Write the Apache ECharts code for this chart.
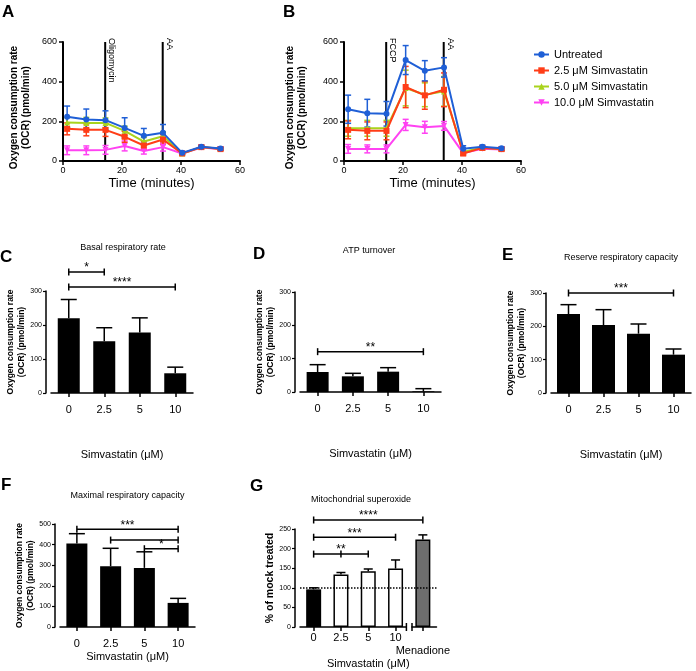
<!DOCTYPE html>
<html>
<head>
<meta charset="utf-8">
<script src="https://cdn.jsdelivr.net/npm/echarts@6/dist/echarts.min.js"></script>
<style>
  html, body { margin: 0; padding: 0; background: #fff; }
  #main { width: 696px; height: 671px; }
</style>
</head>
<body>
<div id="main"></div>
<script>
// 基于准备好的dom，初始化echarts图表
var chart = echarts.init(document.getElementById('main'));

var FONT = '"Liberation Sans", Arial, sans-serif';

// ---- A / B: OCR time courses ----
var times = [1.4, 7.9, 14.4, 20.9, 27.4, 33.9, 40.4, 46.9, 53.4];
var groups = ['Untreated', '2.5 μM Simvastatin', '5.0 μM Simvastatin', '10.0 μM Simvastatin'];
var groupColors = ['#1f5fd6', '#ff3d17', '#a9d31c', '#ff42f2'];
var groupSymbols = ['circle', 'rect', 'triangle', 'triangle'];
var groupRotate = [0, 0, 0, 180];
var ocrMax = 600;

var untreatedA = [223, 209, 206, 167, 127, 142, 41, 72, 63];
var untreatedAErr = [54, 53, 47, 51, 37, 42, 8, 8, 8];
var simva25A = [162, 157, 157, 122, 78, 108, 38, 70, 60];
var simva25AErr = [30, 30, 33, 28, 22, 25, 6, 6, 6];
var simva50A = [194, 192, 192, 152, 98, 125, 38, 70, 62];
var simva50AErr = [25, 28, 25, 24, 20, 22, 6, 6, 6];
var simva100A = [54, 54, 56, 76, 50, 70, 38, 68, 60];
var simva100AErr = [22, 22, 22, 25, 15, 20, 5, 5, 5];
var injectA = [14.3, 33.8];
var injectANames = ['Oligomycin', 'AA'];

var untreatedB = [261, 241, 238, 509, 455, 472, 62, 72, 64];
var untreatedBErr = [71, 70, 62, 73, 51, 49, 15, 8, 8];
var simva25B = [157, 152, 152, 373, 331, 359, 38, 66, 60];
var simva25BErr = [45, 45, 45, 104, 70, 85, 10, 8, 8];
var simva50B = [165, 165, 165, 368, 334, 351, 45, 68, 60];
var simva50BErr = [40, 40, 40, 90, 60, 75, 10, 6, 6];
var simva100B = [61, 61, 61, 182, 170, 177, 40, 62, 58];
var simva100BErr = [22, 20, 20, 28, 30, 22, 6, 5, 5];
var injectB = [14.3, 33.8];
var injectBNames = ['FCCP', 'AA'];

// ---- C-F: OCR parameters ----
var doses = ['0', '2.5', '5', '10'];
var basal = [220, 152, 178, 58];
var basalErr = [55, 40, 43, 18];
var basalSig = [[0, 1, 356, '*'], [0, 3, 312, '****']];
var atp = [60, 47, 61, 2];
var atpErr = [22, 9, 12, 8];
var atpSig = [[0, 3, 121, '**']];
var reserve = [237, 204, 178, 115];
var reserveErr = [28, 46, 29, 17];
var reserveSig = [[0, 3, 300, '***']];
var maximal = [405, 295, 287, 117];
var maximalErr = [48, 87, 78, 22];
var maximalSig = [[0, 3, 474, '***'], [1, 3, 422, ''], [2, 3, 380, '*']];

// ---- G: superoxide ----
var soxCats = ['0', '2.5', '5', '10', '\nMenadione'];
var superoxide = [96, 134, 142, 149, 223];
var superoxideErr = [4, 5, 6, 22, 12];
var superoxideSig = [[0, 4, 273, '****'], [0, 3, 229, '***'], [0, 2, 186, '**', 1]];
var mockLevel = 100;
var soxFill = ['#000', '#fff', '#fff', '#fff', '#6e6e6e'];

var ocrName = 'Oxygen consumption rate\n(OCR) (pmol/min)';

function lineStyleOf(color, w) { return { stroke: color, lineWidth: w }; }

function lineErrSeries(gi, mean, err, color, z) {
  return {
    type: 'custom', xAxisIndex: gi, yAxisIndex: gi, z: z, silent: true,
    data: times.map(function (t, i) { return [t, mean[i] - err[i], mean[i] + err[i]]; }),
    encode: { x: 0, y: [1, 2] },
    renderItem: function (params, api) {
      var lo = api.coord([api.value(0), api.value(1)]);
      var hi = api.coord([api.value(0), api.value(2)]);
      var st = lineStyleOf(color, 1.5);
      return { type: 'group', children: [
        { type: 'line', shape: { x1: lo[0], y1: lo[1], x2: hi[0], y2: hi[1] }, style: st },
        { type: 'line', shape: { x1: hi[0] - 3, y1: hi[1], x2: hi[0] + 3, y2: hi[1] }, style: st },
        { type: 'line', shape: { x1: lo[0] - 3, y1: lo[1], x2: lo[0] + 3, y2: lo[1] }, style: st }
      ] };
    }
  };
}

function eventSeries(gi, xs, names) {
  return {
    type: 'custom', xAxisIndex: gi, yAxisIndex: gi, z: 1, silent: true,
    data: xs.map(function (x) { return [x, 0, ocrMax]; }),
    encode: { x: 0, y: [1, 2] },
    renderItem: function (params, api) {
      var bot = api.coord([api.value(0), api.value(1)]);
      var top = api.coord([api.value(0), api.value(2)]);
      return { type: 'group', children: [
        { type: 'line', shape: { x1: top[0], y1: top[1], x2: bot[0], y2: bot[1] }, style: lineStyleOf('#000', 2) },
        { type: 'text', x: top[0] + 2, y: top[1] - 4, rotation: -Math.PI / 2,
          style: { text: names[params.dataIndex], fill: '#000', font: '9px ' + FONT,
                   align: 'left', verticalAlign: 'bottom', textAlign: 'left', textVerticalAlign: 'bottom' } }
      ] };
    }
  };
}

function barErrSeries(gi, values, errs, cap) {
  return {
    type: 'custom', xAxisIndex: gi, yAxisIndex: gi, z: 4, silent: true,
    data: values.map(function (v, i) { return [i, v, v + errs[i]]; }),
    encode: { x: 0, y: [1, 2] },
    renderItem: function (params, api) {
      var lo = api.coord([api.value(0), api.value(1)]);
      var hi = api.coord([api.value(0), api.value(2)]);
      var st = lineStyleOf('#000', 1.5);
      return { type: 'group', children: [
        { type: 'line', shape: { x1: lo[0], y1: lo[1], x2: hi[0], y2: hi[1] }, style: st },
        { type: 'line', shape: { x1: hi[0] - cap, y1: hi[1], x2: hi[0] + cap, y2: hi[1] }, style: st }
      ] };
    }
  };
}

function sigSeries(gi, sig) {
  return {
    type: 'custom', xAxisIndex: gi, yAxisIndex: gi, z: 5, silent: true,
    data: sig.map(function (s) { return [s[0], s[1], s[2]]; }),
    encode: { x: [0, 1], y: 2 },
    renderItem: function (params, api) {
      var s = sig[params.dataIndex];
      var a = api.coord([s[0], s[2]]);
      var b = api.coord([s[1], s[2]]);
      var st = lineStyleOf('#000', 1.5);
      var kids = [
        { type: 'line', shape: { x1: a[0], y1: a[1], x2: b[0], y2: b[1] }, style: st },
        { type: 'line', shape: { x1: a[0], y1: a[1] - 3.5, x2: a[0], y2: a[1] + 3.5 }, style: st },
        { type: 'line', shape: { x1: b[0], y1: b[1] - 3.5, x2: b[0], y2: b[1] + 3.5 }, style: st }
      ];
      if (s[4] != null) {
        var m = api.coord([s[4], s[2]]);
        kids.push({ type: 'line', shape: { x1: m[0], y1: m[1] - 3.5, x2: m[0], y2: m[1] + 3.5 }, style: st });
      }
      if (s[3]) {
        kids.push({ type: 'text', x: (a[0] + b[0]) / 2, y: a[1] + 2,
          style: { text: s[3], fill: '#000', font: '12px ' + FONT,
                   align: 'center', verticalAlign: 'bottom', textAlign: 'center', textVerticalAlign: 'bottom' } });
      }
      return { type: 'group', children: kids };
    }
  };
}

var grids = [
  { left: 63, top: 42, width: 177, height: 119 },   // A
  { left: 344, top: 42, width: 177, height: 119 },  // B
  { left: 51, top: 291, width: 142, height: 102 },  // C
  { left: 300, top: 292, width: 141, height: 100 }, // D
  { left: 551, top: 293, width: 140, height: 100 }, // E
  { left: 60, top: 524, width: 135, height: 103 },  // F
  { left: 300, top: 529, width: 136.5, height: 98 } // G
];
grids.forEach(function (g) { g.outerBoundsMode = 'none'; g.containLabel = false; });

var axisLineBlack = { show: true, lineStyle: { color: '#000', width: 1.5 } };
var xAxes = [];
var yAxes = [];

[0, 1].forEach(function (gi) {
  xAxes.push({
    type: 'value', gridIndex: gi, min: 0, max: 60, interval: 20,
    axisLine: { show: true, lineStyle: { color: '#000', width: 2 } }, splitLine: { show: false },
    axisTick: { show: true, length: 4, lineStyle: { color: '#000', width: 1.5 } },
    axisLabel: { fontSize: 9, color: '#000', margin: 5 },
    name: 'Time (minutes)', nameLocation: 'middle', nameGap: 16,
    nameTextStyle: { fontSize: 13, color: '#000' }
  });
  yAxes.push({
    type: 'value', gridIndex: gi, min: 0, max: ocrMax, interval: 200,
    axisLine: { show: true, lineStyle: { color: '#000', width: 2 } }, splitLine: { show: false },
    axisTick: { show: true, length: 4, lineStyle: { color: '#000', width: 1.5 } },
    axisLabel: { fontSize: 9, color: '#000', margin: 6 },
    name: ocrName, nameLocation: 'middle', nameGap: gi === 0 ? 31 : 36,
    nameTextStyle: { fontSize: 10, fontWeight: 'bold', color: '#000', lineHeight: 12, padding: [0, 12, 0, 0] }
  });
});

var barPanels = [
  { gi: 2, cats: doses, values: basal, errs: basalErr, sig: basalSig, max: 300, interval: 100, bw: 22, cap: 8, nameGap: 56, labelMargin: 10, yGap: 19 },
  { gi: 3, cats: doses, values: atp, errs: atpErr, sig: atpSig, max: 300, interval: 100, bw: 22, cap: 8, nameGap: 56, labelMargin: 10, yGap: 18 },
  { gi: 4, cats: doses, values: reserve, errs: reserveErr, sig: reserveSig, max: 300, interval: 100, bw: 23, cap: 8, nameGap: 56, labelMargin: 10, yGap: 18 },
  { gi: 5, cats: doses, values: maximal, errs: maximalErr, sig: maximalSig, max: 500, interval: 100, bw: 21, cap: 8, nameGap: 24, labelMargin: 10, yGap: 16 },
  { gi: 6, cats: soxCats, values: superoxide, errs: superoxideErr, sig: superoxideSig, max: 250, interval: 50, bw: 15, cap: 4.5, nameGap: 31, labelMargin: 4, yGap: 16 }
];

barPanels.forEach(function (p) {
  xAxes.push({
    type: 'category', gridIndex: p.gi, data: p.cats,
    axisLine: axisLineBlack,
    axisTick: { show: true, alignWithLabel: true, length: 4, lineStyle: { color: '#000', width: 1.5 } },
    axisLabel: { fontSize: 11, color: '#000', margin: p.labelMargin, interval: 0, lineHeight: 13 },
    name: 'Simvastatin (μM)', nameLocation: 'middle', nameGap: p.nameGap,
    nameTextStyle: { fontSize: 11, color: '#000' }
  });
  yAxes.push({
    type: 'value', gridIndex: p.gi, min: 0, max: p.max, interval: p.interval, offset: 5,
    axisLine: axisLineBlack, splitLine: { show: false },
    axisTick: { show: true, length: 3, lineStyle: { color: '#000', width: 1.2 } },
    axisLabel: { fontSize: 7, color: '#000', margin: 4 },
    name: p.gi === 6 ? '% of mock treated' : ocrName,
    nameLocation: 'middle', nameGap: p.yGap,
    nameTextStyle: p.gi === 6
      ? { fontSize: 10.5, fontWeight: 'bold', color: '#000' }
      : { fontSize: 8.5, fontWeight: 'bold', color: '#000', lineHeight: 10.5 }
  });
});

var series = [];

[
  { gi: 0, means: [untreatedA, simva25A, simva50A, simva100A], errs: [untreatedAErr, simva25AErr, simva50AErr, simva100AErr], inject: injectA, names: injectANames },
  { gi: 1, means: [untreatedB, simva25B, simva50B, simva100B], errs: [untreatedBErr, simva25BErr, simva50BErr, simva100BErr], inject: injectB, names: injectBNames }
].forEach(function (p) {
  series.push(eventSeries(p.gi, p.inject, p.names));
  p.means.forEach(function (m, k) {
    series.push(lineErrSeries(p.gi, m, p.errs[k], groupColors[k], 6 - k));
    series.push({
      name: groups[k], type: 'line', xAxisIndex: p.gi, yAxisIndex: p.gi,
      data: times.map(function (t, i) { return [t, m[i]]; }),
      symbol: groupSymbols[k], symbolSize: 6, symbolRotate: groupRotate[k],
      itemStyle: { color: groupColors[k] },
      lineStyle: { color: groupColors[k], width: 2 },
      z: 10 - k
    });
  });
});

barPanels.forEach(function (p) {
  var bar = {
    type: 'bar', xAxisIndex: p.gi, yAxisIndex: p.gi, barWidth: p.bw, z: 3,
    data: p.values.map(function (v, i) {
      if (p.gi !== 6) return v;
      return { value: v, itemStyle: { color: soxFill[i], borderColor: '#000', borderWidth: i === 0 ? 0 : 1.5 } };
    }),
    itemStyle: { color: '#000' }
  };
  if (p.gi === 6) {
    bar.markLine = {
      silent: true, symbol: 'none', label: { show: false },
      lineStyle: { type: 'dotted', color: '#000', width: 1.5 },
      data: [{ yAxis: mockLevel }]
    };
  }
  series.push(bar);
  series.push(barErrSeries(p.gi, p.values, p.errs, p.cap));
  series.push(sigSeries(p.gi, p.sig));
});

// axis break between the simvastatin doses and menadione
series.push({
  type: 'custom', xAxisIndex: 6, yAxisIndex: 6, z: 6, silent: true,
  data: [[3, 4, 0]],
  encode: { x: [0, 1], y: 2 },
  renderItem: function (params, api) {
    var a = api.coord([api.value(0), api.value(2)]);
    var b = api.coord([api.value(1), api.value(2)]);
    var bx = (a[0] + b[0]) / 2, y = a[1];
    var st = lineStyleOf('#000', 1.5);
    return { type: 'group', children: [
      { type: 'rect', shape: { x: bx - 2.2, y: y - 3, width: 4.4, height: 6 }, style: { fill: '#fff' } },
      { type: 'line', shape: { x1: bx - 2.8, y1: y - 4, x2: bx - 2.8, y2: y + 4 }, style: st },
      { type: 'line', shape: { x1: bx + 2.8, y1: y - 4, x2: bx + 2.8, y2: y + 4 }, style: st }
    ] };
  }
});

function label(text, x, y, size, bold, align) {
  return { type: 'text', x: x, y: y, silent: true,
    style: { text: text, fill: '#000', font: (bold ? 'bold ' : '') + size + 'px ' + FONT,
             align: align, verticalAlign: 'middle', textAlign: align, textVerticalAlign: 'middle' } };
}

var option = {
  animation: false,
  textStyle: { fontFamily: FONT },
  legend: {
    data: groups, orient: 'vertical', left: 528, top: 44, itemGap: 5,
    itemWidth: 15, itemHeight: 8,
    textStyle: { fontSize: 11, color: '#000' }
  },
  graphic: [
    label('A', 2, 12.5, 17, true, 'left'),
    label('B', 283, 12.5, 17, true, 'left'),
    label('C', 0, 257, 17, true, 'left'),
    label('D', 253, 254, 17, true, 'left'),
    label('E', 502, 255.5, 17, true, 'left'),
    label('F', 1, 485.5, 17, true, 'left'),
    label('G', 250, 486, 17, true, 'left'),
    label('Basal respiratory rate', 123, 248, 9, false, 'center'),
    label('ATP turnover', 369, 251, 9, false, 'center'),
    label('Reserve respiratory capacity', 621, 257.5, 9, false, 'center'),
    label('Maximal respiratory capacity', 127.5, 496, 9, false, 'center'),
    label('Mitochondrial superoxide', 361, 500, 9, false, 'center')
  ],
  grid: grids,
  xAxis: xAxes,
  yAxis: yAxes,
  series: series
};

chart.setOption(option);
</script>
</body>
</html>
